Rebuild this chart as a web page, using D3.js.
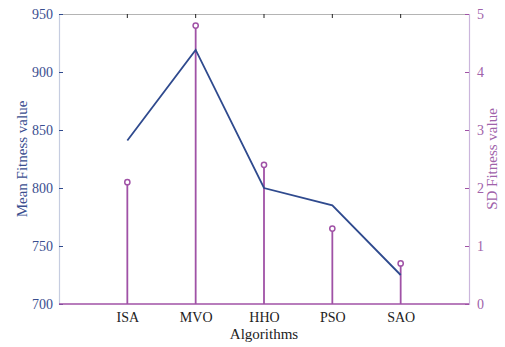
<!DOCTYPE html>
<html>
<head>
<meta charset="utf-8">
<script src="https://cdn.jsdelivr.net/npm/d3@7/dist/d3.min.js"></script>
<style>
  html, body { margin: 0; padding: 0; background: #fff; }
  svg { display: block; }
  text { font-family: "Liberation Serif", "Times New Roman", serif; }
</style>
</head>
<body>
<svg id="chart" width="505" height="347"></svg>
<script>
// Algorithms compared
const algorithms = ["ISA", "MVO", "HHO", "PSO", "SAO"];
// Mean fitness value (left axis, line)
const meanFitness = [841, 919, 800, 785, 725];
// Standard deviation of fitness (right axis, stems)
const sdFitness = [2.1, 4.8, 2.4, 1.3, 0.7];
// Tick values
const leftTicks = [700, 750, 800, 850, 900, 950];
const rightTicks = [0, 1, 2, 3, 4, 5];

const blue = "#2f4a8e";
const blueText = "#3a4e8f";
const purple = "#a052a6";
const purpleText = "#a062aa";
const serif = "Liberation Serif, serif";

const margin = { left: 59, right: 36, top: 14, bottom: 43 };
const W = 505, H = 347;
const iw = W - margin.left - margin.right;
const ih = H - margin.top - margin.bottom;

const svg = d3.select("#chart");
const g = svg.append("g").attr("transform", `translate(${margin.left},${margin.top})`);

const x = d3.scalePoint().domain(["", ...algorithms, " "]).range([0, iw]);
const yL = d3.scaleLinear().domain([700, 950]).range([ih, 0]);
const yR = d3.scaleLinear().domain([0, 5]).range([ih, 0]);

// top border with category ticks
g.append("line").attr("x1", 0).attr("x2", iw).attr("y1", 0.5).attr("y2", 0.5)
  .attr("stroke", "#b4b4b4").attr("stroke-width", 1);
g.selectAll(".ttick").data(algorithms).join("line")
  .attr("x1", d => x(d)).attr("x2", d => x(d)).attr("y1", 0).attr("y2", 4)
  .attr("stroke", "#222").attr("stroke-width", 1);

// left axis
const axL = g.append("g").call(d3.axisLeft(yL).tickValues(leftTicks).tickSize(-4).tickPadding(6));
axL.select(".domain").attr("stroke", "#c6cde0").attr("stroke-width", 1.2);
axL.selectAll(".tick line").attr("stroke", blue);
axL.selectAll(".tick text").attr("fill", blueText).attr("font-size", 14)
  .attr("font-family", serif);

// right axis
const axR = g.append("g").attr("transform", `translate(${iw},0)`)
  .call(d3.axisRight(yR).tickValues(rightTicks).tickSize(-4).tickPadding(8).tickFormat(d3.format("d")));
axR.select(".domain").attr("stroke", "#cbb6dc").attr("stroke-width", 1.2);
axR.selectAll(".tick line").attr("stroke", purple);
axR.selectAll(".tick text").attr("fill", purpleText).attr("font-size", 14)
  .attr("font-family", serif);

// bottom axis labels
const axB = g.append("g").attr("transform", `translate(0,${ih})`)
  .call(d3.axisBottom(x).tickValues(algorithms).tickSize(0).tickPadding(8));
axB.select(".domain").remove();
axB.selectAll(".tick text").attr("fill", "#222").attr("font-size", 14)
  .attr("font-family", serif);

// stems (SD)
g.append("line").attr("x1", 0).attr("x2", iw).attr("y1", yR(0)).attr("y2", yR(0))
  .attr("stroke", purple).attr("stroke-width", 1.5);
g.selectAll(".stem").data(algorithms).join("line")
  .attr("x1", d => x(d)).attr("x2", d => x(d))
  .attr("y1", yR(0)).attr("y2", (d, i) => yR(sdFitness[i]) + 2.5)
  .attr("stroke", purple).attr("stroke-width", 1.8);
g.selectAll(".head").data(algorithms).join("circle")
  .attr("cx", d => x(d)).attr("cy", (d, i) => yR(sdFitness[i]))
  .attr("r", 2.6).attr("fill", "none").attr("stroke", purple).attr("stroke-width", 1.5);

// mean line
const line = d3.line().x((d, i) => x(algorithms[i])).y(d => yL(d));
g.append("path").datum(meanFitness).attr("d", line)
  .attr("fill", "none").attr("stroke", blue).attr("stroke-width", 1.8);

// axis titles
svg.append("text").attr("transform", `translate(27,${margin.top + ih / 2}) rotate(-90)`)
  .attr("text-anchor", "middle").attr("fill", blueText).attr("font-size", 15)
  .text("Mean Fitness value");
svg.append("text").attr("transform", `translate(497,${margin.top + ih / 2}) rotate(-90)`)
  .attr("text-anchor", "middle").attr("fill", purpleText).attr("font-size", 15)
  .text("SD Fitness value");
svg.append("text").attr("x", margin.left + x("HHO")).attr("y", 339)
  .attr("text-anchor", "middle").attr("fill", "#222").attr("font-size", 15)
  .text("Algorithms");
</script>
</body>
</html>
